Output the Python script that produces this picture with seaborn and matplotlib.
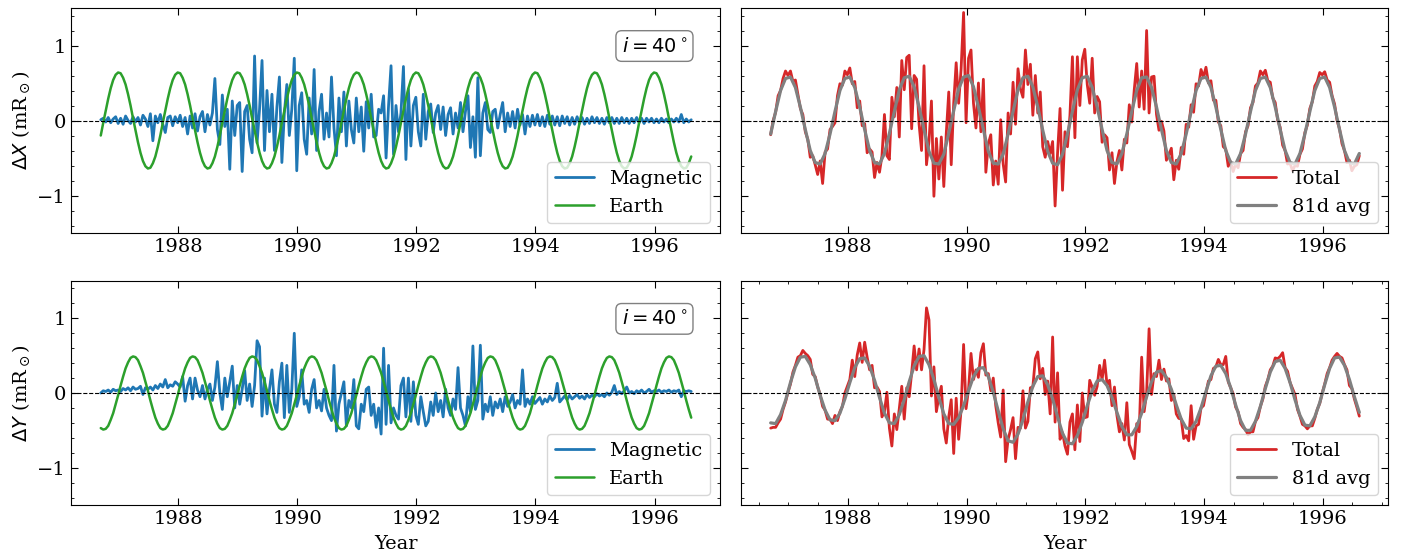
import numpy as np
import pandas as pd
import matplotlib
matplotlib.use("Agg")
import matplotlib.pyplot as plt
import seaborn as sns
from matplotlib.ticker import MultipleLocator, NullLocator

# ---------------- data ----------------
start_year = 1986.70
step_fine = 1 / 24     # sampling of the daily-ish series as read (~15 d)
step_avg = 1 / 12      # sampling of the 81-day average as read

year_ticks = [1988, 1990, 1992, 1994, 1996]
y_ticks = [-1, 0, 1]

magnetic_x = [
    0.01, 0.03, -0.02, 0.04, -0.03, 0.02, 0.05, -0.04,
    0.03, -0.05, 0.06, 0.00, -0.04, 0.05, -0.02, 0.04,
    -0.06, 0.07, 0.02, -0.08, 0.09, -0.27, 0.06, -0.03,
    0.08, -0.05, -0.16, 0.04, 0.06, -0.07, 0.05, -0.03,
    0.07, -0.08, 0.04, -0.18, 0.06, -0.10, 0.09, -0.14,
    0.05, 0.12, -0.15, 0.08, -0.06, 0.10, 0.56, -0.12,
    -0.32, 0.34, -0.08, 0.15, -0.65, 0.26, -0.20, 0.20,
    0.24, -0.68, 0.12, 0.20, -0.25, -0.43, 0.86, -0.30,
    0.15, 0.80, -0.40, 0.40, -0.15, 0.35, -0.40, 0.18,
    0.58, -0.56, 0.10, 0.48, -0.20, 0.15, 0.83, -0.67,
    0.20, 0.37, -0.25, -0.45, 0.30, -0.18, 0.68, -0.40,
    0.12, 0.35, -0.25, 0.10, -0.22, 0.58, -0.10, -0.47,
    0.30, -0.15, 0.38, -0.34, 0.26, -0.12, -0.30, 0.30,
    -0.15, 0.18, -0.41, 0.25, -0.10, 0.35, -0.22, -0.20,
    0.15, 0.10, 0.33, -0.50, 0.20, 0.73, -0.45, 0.20,
    -0.15, 0.10, 0.72, -0.52, 0.42, -0.34, 0.20, 0.31,
    -0.15, -0.34, 0.35, -0.25, 0.12, 0.22, -0.16, 0.10,
    0.20, -0.12, 0.18, -0.20, 0.08, 0.17, -0.18, 0.10,
    -0.10, 0.24, -0.15, 0.12, 0.33, -0.36, 0.05, -0.49,
    0.57, -0.47, 0.10, 0.24, -0.12, -0.16, 0.12, 0.15,
    -0.10, 0.08, 0.24, -0.15, 0.10, -0.08, 0.12, -0.10,
    0.15, -0.06, 0.08, -0.18, 0.06, -0.08, 0.07, -0.06,
    0.08, -0.07, 0.05, -0.08, 0.07, -0.05, 0.06, -0.06,
    0.05, -0.07, 0.06, -0.04, 0.05, -0.06, 0.04, -0.05,
    0.05, -0.04, 0.04, -0.05, 0.03, -0.04, 0.05, -0.03,
    0.04, -0.04, 0.03, -0.05, 0.04, -0.03, 0.04, -0.04,
    0.03, -0.04, 0.04, -0.03, 0.03, -0.04, 0.03, -0.03,
    0.04, -0.03, 0.03, -0.04, 0.03, -0.02, 0.03, -0.03,
    0.02, -0.03, 0.03, -0.02, 0.02, -0.03, 0.02, -0.02,
    0.03, -0.02, 0.08, -0.03, 0.02, -0.02, 0.01,
]

earth_x = [
    -0.20, -0.03, 0.13, 0.29, 0.43, 0.54, 0.61, 0.64, 0.63, 0.57, 0.48, 0.35, 0.20, 0.03, -0.13, -0.29, -0.43, -0.54, -0.61, -0.64, -0.63, -0.57, -0.48, -0.35,
    -0.20, -0.03, 0.13, 0.29, 0.43, 0.54, 0.61, 0.64, 0.63, 0.57, 0.48, 0.35, 0.20, 0.03, -0.13, -0.29, -0.43, -0.54, -0.61, -0.64, -0.63, -0.57, -0.48, -0.35,
    -0.20, -0.03, 0.13, 0.29, 0.43, 0.54, 0.61, 0.64, 0.63, 0.57, 0.48, 0.35, 0.20, 0.03, -0.13, -0.29, -0.43, -0.54, -0.61, -0.64, -0.63, -0.57, -0.48, -0.35,
    -0.20, -0.03, 0.13, 0.29, 0.43, 0.54, 0.61, 0.64, 0.63, 0.57, 0.48, 0.35, 0.20, 0.03, -0.13, -0.29, -0.43, -0.54, -0.61, -0.64, -0.63, -0.57, -0.48, -0.35,
    -0.20, -0.03, 0.13, 0.29, 0.43, 0.54, 0.61, 0.64, 0.63, 0.57, 0.48, 0.35, 0.20, 0.03, -0.13, -0.29, -0.43, -0.54, -0.61, -0.64, -0.63, -0.57, -0.48, -0.35,
    -0.20, -0.03, 0.13, 0.29, 0.43, 0.54, 0.61, 0.64, 0.63, 0.57, 0.48, 0.35, 0.20, 0.03, -0.13, -0.29, -0.43, -0.54, -0.61, -0.64, -0.63, -0.57, -0.48, -0.35,
    -0.20, -0.03, 0.13, 0.29, 0.43, 0.54, 0.61, 0.64, 0.63, 0.57, 0.48, 0.35, 0.20, 0.03, -0.13, -0.29, -0.43, -0.54, -0.61, -0.64, -0.63, -0.57, -0.48, -0.35,
    -0.20, -0.03, 0.13, 0.29, 0.43, 0.54, 0.61, 0.64, 0.63, 0.57, 0.48, 0.35, 0.20, 0.03, -0.13, -0.29, -0.43, -0.54, -0.61, -0.64, -0.63, -0.57, -0.48, -0.35,
    -0.20, -0.03, 0.13, 0.29, 0.43, 0.54, 0.61, 0.64, 0.63, 0.57, 0.48, 0.35, 0.20, 0.03, -0.13, -0.29, -0.43, -0.54, -0.61, -0.64, -0.63, -0.57, -0.48, -0.35,
    -0.20, -0.03, 0.13, 0.29, 0.43, 0.54, 0.61, 0.64, 0.63, 0.57, 0.48, 0.35, 0.20, 0.03, -0.13, -0.29, -0.43, -0.54, -0.61, -0.64, -0.63, -0.57, -0.48,
]

total_x = [
    -0.19, 0.00, 0.11, 0.33, 0.40, 0.56, 0.66, 0.60,
    0.66, 0.52, 0.54, 0.35, 0.16, 0.08, -0.15, -0.25,
    -0.49, -0.47, -0.59, -0.72, -0.54, -0.84, -0.42, -0.38,
    -0.12, -0.08, -0.03, 0.33, 0.49, 0.47, 0.66, 0.61,
    0.70, 0.49, 0.52, 0.17, 0.26, -0.07, -0.04, -0.43,
    -0.38, -0.42, -0.76, -0.56, -0.69, -0.47, 0.08, -0.47,
    -0.52, 0.31, 0.05, 0.44, -0.22, 0.80, 0.41, 0.84,
    0.87, -0.11, 0.60, 0.55, -0.05, -0.40, 0.73, -0.59,
    -0.28, 0.26, -1.01, -0.24, -0.78, -0.22, -0.88, -0.17,
    0.38, -0.59, 0.23, 0.77, 0.23, 0.69, 1.44, -0.03,
    0.83, 0.94, 0.23, -0.10, 0.50, -0.15, 0.55, -0.69,
    -0.31, -0.19, -0.86, -0.54, -0.85, 0.01, -0.58, -0.82,
    0.10, -0.18, 0.51, -0.05, 0.69, 0.42, 0.31, 0.94,
    0.48, 0.75, 0.07, 0.60, 0.10, 0.38, -0.35, -0.49,
    -0.28, -0.44, -0.28, -1.14, -0.43, 0.16, -0.93, -0.15,
    -0.35, 0.07, 0.85, -0.23, 0.85, 0.20, 0.81, 0.95,
    0.48, 0.23, 0.83, 0.10, 0.32, 0.25, -0.29, -0.19,
    -0.23, -0.66, -0.43, -0.84, -0.55, -0.40, -0.66, -0.25,
    -0.30, 0.21, -0.02, 0.41, 0.76, 0.18, 0.66, 0.15,
    1.20, 0.10, 0.58, 0.59, 0.08, -0.13, -0.01, -0.14,
    -0.53, -0.46, -0.37, -0.79, -0.53, -0.65, -0.36, -0.45,
    -0.05, -0.09, 0.21, 0.11, 0.49, 0.46, 0.68, 0.58,
    0.71, 0.50, 0.53, 0.27, 0.27, -0.02, -0.07, -0.35,
    -0.38, -0.61, -0.55, -0.68, -0.58, -0.63, -0.44, -0.40,
    -0.15, -0.07, 0.17, 0.24, 0.46, 0.50, 0.66, 0.61,
    0.67, 0.53, 0.51, 0.30, 0.24, 0.00, -0.09, -0.33,
    -0.40, -0.58, -0.57, -0.67, -0.60, -0.61, -0.45, -0.38,
    -0.16, -0.06, 0.16, 0.25, 0.46, 0.52, 0.64, 0.61,
    0.65, 0.54, 0.51, 0.33, 0.22, 0.00, -0.11, -0.31,
    -0.40, -0.56, -0.53, -0.67, -0.61, -0.59, -0.47,
]

avg81_x = [
    -0.18, 0.12, 0.40, 0.56, 0.58, 0.44, 0.18, -0.12, -0.40, -0.56, -0.58, -0.44,
    -0.18, 0.12, 0.40, 0.56, 0.58, 0.44, 0.18, -0.12, -0.40, -0.56, -0.58, -0.44,
    -0.17, 0.12, 0.41, 0.57, 0.59, 0.45, 0.18, -0.12, -0.41, -0.57, -0.58, -0.45,
    -0.17, 0.13, 0.42, 0.58, 0.60, 0.45, 0.18, -0.12, -0.41, -0.57, -0.58, -0.45,
    -0.18, 0.12, 0.41, 0.57, 0.59, 0.45, 0.18, -0.13, -0.41, -0.57, -0.59, -0.45,
    -0.18, 0.12, 0.41, 0.57, 0.59, 0.44, 0.18, -0.12, -0.40, -0.56, -0.58, -0.44,
    -0.18, 0.12, 0.40, 0.57, 0.58, 0.44, 0.18, -0.12, -0.40, -0.56, -0.58, -0.44,
    -0.18, 0.12, 0.40, 0.56, 0.58, 0.44, 0.18, -0.12, -0.40, -0.56, -0.58, -0.44,
    -0.18, 0.12, 0.40, 0.56, 0.58, 0.44, 0.18, -0.12, -0.40, -0.56, -0.58, -0.44,
    -0.18, 0.12, 0.40, 0.56, 0.58, 0.44, 0.18, -0.12, -0.40, -0.56, -0.58, -0.44,
]

magnetic_y = [
    0.00, 0.03, 0.02, 0.04, 0.01, 0.05, 0.03, 0.04,
    0.02, 0.06, 0.04, 0.07, 0.03, 0.08, 0.05, 0.06,
    0.09, -0.02, 0.07, 0.05, 0.08, 0.04, 0.10, 0.06,
    0.12, 0.08, 0.18, 0.07, 0.11, 0.09, 0.15, 0.12,
    0.08, 0.22, -0.11, 0.10, 0.20, -0.08, 0.20, 0.04,
    -0.05, 0.10, -0.08, 0.05, 0.12, -0.10, 0.08, 0.42,
    0.00, -0.22, 0.20, -0.05, 0.15, 0.36, -0.20, 0.10,
    -0.15, 0.05, 0.30, -0.10, 0.12, -0.18, 0.10, 0.70,
    0.62, -0.31, 0.20, -0.28, 0.05, 0.31, -0.15, -0.26,
    0.15, 0.40, -0.33, 0.37, -0.26, 0.05, 0.80, -0.18,
    -0.05, 0.31, -0.15, -0.10, -0.26, 0.05, 0.18, -0.20,
    -0.10, -0.24, 0.05, -0.20, -0.30, -0.37, 0.37, -0.51,
    -0.15, 0.00, 0.15, -0.44, -0.10, -0.20, 0.18, -0.44,
    -0.48, -0.15, -0.25, 0.05, 0.08, -0.30, -0.15, -0.46,
    -0.20, -0.55, 0.60, -0.42, 0.37, -0.40, -0.20, -0.30,
    -0.35, 0.10, 0.20, -0.32, 0.20, -0.38, 0.15, -0.30,
    -0.42, -0.05, -0.25, -0.44, -0.38, -0.12, -0.30, 0.00,
    -0.25, -0.10, -0.32, 0.05, -0.20, -0.30, -0.08, -0.22,
    0.34, -0.20, -0.30, -0.44, -0.05, -0.25, 0.63, -0.22,
    -0.10, 0.64, -0.35, -0.15, -0.25, -0.05, -0.30, -0.12,
    -0.20, -0.08, -0.25, -0.05, -0.18, -0.12, -0.02, -0.20,
    -0.10, -0.15, 0.31, -0.18, -0.08, -0.15, -0.05, -0.14,
    -0.10, -0.06, -0.15, -0.08, -0.12, -0.04, -0.10, -0.06,
    0.13, -0.12, -0.08, -0.04, -0.09, -0.03, -0.08, -0.05,
    -0.02, -0.07, -0.04, -0.08, -0.02, -0.06, -0.03, -0.05,
    -0.01, -0.04, -0.02, -0.05, 0.00, -0.03, 0.01, 0.10,
    -0.02, 0.02, -0.01, 0.03, 0.08, 0.00, 0.02, -0.01,
    0.03, 0.01, 0.04, 0.00, 0.02, 0.05, 0.01, 0.03,
    0.02, 0.04, 0.01, 0.03, 0.02, 0.04, 0.01, 0.03,
    0.02, 0.04, -0.05, 0.03, 0.02, 0.03, 0.02,
]

earth_y = [
    -0.47, -0.49, -0.48, -0.44, -0.36, -0.27, -0.15, -0.03, 0.10, 0.22, 0.33, 0.41, 0.47, 0.49, 0.48, 0.44, 0.36, 0.27, 0.15, 0.03, -0.10, -0.22, -0.33, -0.41,
    -0.47, -0.49, -0.48, -0.44, -0.36, -0.27, -0.15, -0.03, 0.10, 0.22, 0.33, 0.41, 0.47, 0.49, 0.48, 0.44, 0.36, 0.27, 0.15, 0.03, -0.10, -0.22, -0.33, -0.41,
    -0.47, -0.49, -0.48, -0.44, -0.36, -0.27, -0.15, -0.03, 0.10, 0.22, 0.33, 0.41, 0.47, 0.49, 0.48, 0.44, 0.36, 0.27, 0.15, 0.03, -0.10, -0.22, -0.33, -0.41,
    -0.47, -0.49, -0.48, -0.44, -0.36, -0.27, -0.15, -0.03, 0.10, 0.22, 0.33, 0.41, 0.47, 0.49, 0.48, 0.44, 0.36, 0.27, 0.15, 0.03, -0.10, -0.22, -0.33, -0.41,
    -0.47, -0.49, -0.48, -0.44, -0.36, -0.27, -0.15, -0.03, 0.10, 0.22, 0.33, 0.41, 0.47, 0.49, 0.48, 0.44, 0.36, 0.27, 0.15, 0.03, -0.10, -0.22, -0.33, -0.41,
    -0.47, -0.49, -0.48, -0.44, -0.36, -0.27, -0.15, -0.03, 0.10, 0.22, 0.33, 0.41, 0.47, 0.49, 0.48, 0.44, 0.36, 0.27, 0.15, 0.03, -0.10, -0.22, -0.33, -0.41,
    -0.47, -0.49, -0.48, -0.44, -0.36, -0.27, -0.15, -0.03, 0.10, 0.22, 0.33, 0.41, 0.47, 0.49, 0.48, 0.44, 0.36, 0.27, 0.15, 0.03, -0.10, -0.22, -0.33, -0.41,
    -0.47, -0.49, -0.48, -0.44, -0.36, -0.27, -0.15, -0.03, 0.10, 0.22, 0.33, 0.41, 0.47, 0.49, 0.48, 0.44, 0.36, 0.27, 0.15, 0.03, -0.10, -0.22, -0.33, -0.41,
    -0.47, -0.49, -0.48, -0.44, -0.36, -0.27, -0.15, -0.03, 0.10, 0.22, 0.33, 0.41, 0.47, 0.49, 0.48, 0.44, 0.36, 0.27, 0.15, 0.03, -0.10, -0.22, -0.33, -0.41,
    -0.47, -0.49, -0.48, -0.44, -0.36, -0.27, -0.15, -0.03, 0.10, 0.22, 0.33, 0.41, 0.47, 0.49, 0.48, 0.44, 0.36, 0.27, 0.15, 0.03, -0.10, -0.22, -0.33,
]

total_y = [
    -0.47, -0.46, -0.46, -0.40, -0.35, -0.22, -0.12, 0.01,
    0.12, 0.28, 0.37, 0.48, 0.50, 0.57, 0.53, 0.50,
    0.45, 0.25, 0.22, 0.08, -0.02, -0.18, -0.23, -0.35,
    -0.35, -0.41, -0.30, -0.37, -0.25, -0.18, 0.00, 0.09,
    0.18, 0.44, 0.22, 0.51, 0.67, 0.41, 0.68, 0.48,
    0.31, 0.37, 0.07, 0.08, 0.02, -0.32, -0.25, 0.01,
    -0.47, -0.71, -0.28, -0.49, -0.21, 0.09, -0.35, 0.07,
    -0.05, 0.27, 0.63, 0.31, 0.59, 0.31, 0.58, 1.14,
    0.98, -0.04, 0.35, -0.25, -0.05, 0.09, -0.48, -0.67,
    -0.32, -0.09, -0.81, -0.07, -0.62, -0.22, 0.65, -0.21,
    0.05, 0.53, 0.18, 0.31, 0.21, 0.54, 0.66, 0.24,
    0.26, 0.03, 0.20, -0.17, -0.40, -0.59, 0.04, -0.92,
    -0.62, -0.49, -0.33, -0.88, -0.46, -0.47, 0.03, -0.47,
    -0.38, 0.07, 0.08, 0.46, 0.55, 0.19, 0.33, -0.02,
    0.16, -0.28, 0.75, -0.39, 0.27, -0.62, -0.53, -0.71,
    -0.82, -0.39, -0.28, -0.76, -0.16, -0.65, 0.00, -0.33,
    -0.32, 0.17, 0.08, -0.03, 0.09, 0.37, 0.18, 0.44,
    0.11, 0.17, -0.17, 0.08, -0.30, -0.52, -0.41, -0.63,
    -0.13, -0.69, -0.78, -0.88, -0.41, -0.52, 0.48, -0.25,
    0.00, 0.86, -0.02, 0.26, 0.22, 0.44, 0.18, 0.32,
    0.16, 0.19, -0.10, -0.02, -0.28, -0.34, -0.35, -0.61,
    -0.57, -0.64, -0.17, -0.62, -0.44, -0.42, -0.20, -0.17,
    0.00, 0.16, 0.18, 0.33, 0.35, 0.45, 0.38, 0.38,
    0.49, 0.15, 0.07, -0.01, -0.19, -0.25, -0.41, -0.46,
    -0.49, -0.56, -0.52, -0.52, -0.38, -0.33, -0.18, -0.08,
    0.09, 0.18, 0.31, 0.36, 0.47, 0.46, 0.49, 0.54,
    0.34, 0.29, 0.14, 0.06, -0.02, -0.22, -0.31, -0.42,
    -0.44, -0.48, -0.44, -0.44, -0.34, -0.22, -0.14, 0.00,
    0.12, 0.26, 0.34, 0.44, 0.49, 0.53, 0.49, 0.47,
    0.38, 0.31, 0.10, 0.06, -0.08, -0.19, -0.31,
]

avg81_y = [
    -0.40, -0.41, -0.29, -0.10, 0.14, 0.35, 0.48, 0.49, 0.38, 0.20, -0.03, -0.23,
    -0.36, -0.37, -0.27, -0.08, 0.14, 0.34, 0.46, 0.47, 0.36, 0.17, -0.06, -0.27,
    -0.40, -0.41, -0.29, -0.09, 0.15, 0.36, 0.49, 0.50, 0.38, 0.18, -0.06, -0.28,
    -0.41, -0.42, -0.33, -0.17, 0.03, 0.22, 0.33, 0.34, 0.22, 0.01, -0.24, -0.48,
    -0.64, -0.66, -0.55, -0.36, -0.12, 0.09, 0.22, 0.23, 0.11, -0.08, -0.32, -0.54,
    -0.67, -0.68, -0.57, -0.39, -0.17, 0.03, 0.16, 0.18, 0.10, -0.06, -0.26, -0.45,
    -0.56, -0.56, -0.45, -0.27, -0.05, 0.15, 0.28, 0.30, 0.21, 0.05, -0.16, -0.35,
    -0.47, -0.48, -0.38, -0.20, 0.02, 0.23, 0.36, 0.37, 0.26, 0.07, -0.16, -0.37,
    -0.50, -0.50, -0.38, -0.18, 0.06, 0.28, 0.42, 0.44, 0.33, 0.14, -0.09, -0.30,
    -0.43, -0.44, -0.32, -0.13, 0.11, 0.33, 0.47, 0.48, 0.37, 0.18, -0.05, -0.26,
]

series_labels = ["Magnetic", "Earth", "Total", "81d avg"]
inclination_label = r"$i = 40^\circ$"


def frame(values, step):
    return pd.DataFrame({
        "year": start_year + np.arange(len(values)) * step,
        "value": values,
    })


# ---------------- style ----------------
sns.set_style("ticks", {
    "xtick.direction": "in", "ytick.direction": "in",
    "axes.edgecolor": "black", "xtick.color": "black", "ytick.color": "black",
    "text.color": "black", "axes.labelcolor": "black",
})
plt.rcParams["font.family"] = ["DejaVu Serif"]
plt.rcParams["mathtext.fontset"] = "dejavusans"
plt.rcParams["font.size"] = 14

BLUE, GREEN, RED, GRAY = "#1f77b4", "#2ca02c", "#d62728", "#808080"

fig = plt.figure(figsize=(14.07, 5.56), dpi=100)
W, H = 1407, 556
def add_ax(l, t, r, b):
    return fig.add_axes([l / W, 1 - b / H, (r - l) / W, (b - t) / H])

ax_tl = add_ax(71, 8, 720, 233)
ax_tr = add_ax(741, 8, 1388, 233)
ax_bl = add_ax(71, 281, 720, 505)
ax_br = add_ax(741, 281, 1388, 505)

panels = [
    (ax_tl, [(magnetic_x, step_fine, BLUE, 2.0, series_labels[0]),
             (earth_x, step_fine, GREEN, 1.8, series_labels[1])], True),
    (ax_tr, [(total_x, step_fine, RED, 2.0, series_labels[2]),
             (avg81_x, step_avg, GRAY, 2.3, series_labels[3])], False),
    (ax_bl, [(magnetic_y, step_fine, BLUE, 2.0, series_labels[0]),
             (earth_y, step_fine, GREEN, 1.8, series_labels[1])], True),
    (ax_br, [(total_y, step_fine, RED, 2.0, series_labels[2]),
             (avg81_y, step_avg, GRAY, 2.3, series_labels[3])], False),
]

for ax, lines, is_left in panels:
    for vals, step, col, lw, lab in lines:
        sns.lineplot(data=frame(vals, step), x="year", y="value", ax=ax,
                     color=col, linewidth=lw, label=lab, errorbar=None, sort=False)
    ax.axhline(0, color="black", linestyle="--", linewidth=0.8, zorder=5)
    ax.set_xlim(1986.2, 1997.1)
    ax.set_ylim(-1.5, 1.5)
    ax.set_xticks(year_ticks)
    ax.set_yticks(y_ticks)
    ax.yaxis.set_minor_locator(MultipleLocator(0.2))
    ax.xaxis.set_minor_locator(NullLocator())
    ax.tick_params(which="both", direction="in", top=True, right=True, labelsize=14)
    ax.tick_params(which="major", length=5, width=0.8)
    ax.tick_params(which="minor", length=2.5, width=0.6)
    ax.set_xlabel("")
    ax.set_ylabel("")
    ax.legend(loc="lower right", fontsize=14, framealpha=0.8)
    if is_left:
        ax.text(0.899, 0.831, inclination_label, transform=ax.transAxes,
                ha="center", va="center", fontsize=14,
                bbox=dict(boxstyle="round", facecolor="white", edgecolor="gray"))
    else:
        ax.tick_params(labelleft=False)

ax_br.xaxis.set_minor_locator(MultipleLocator(0.5))

ax_tl.set_ylabel(r"$\Delta X$ (mR$_\odot$)", fontsize=14)
ax_bl.set_ylabel(r"$\Delta Y$ (mR$_\odot$)", fontsize=14)
ax_bl.set_xlabel("Year", fontsize=14, labelpad=5)
ax_br.set_xlabel("Year", fontsize=14, labelpad=5)

fig.savefig("out.png", dpi=100)
